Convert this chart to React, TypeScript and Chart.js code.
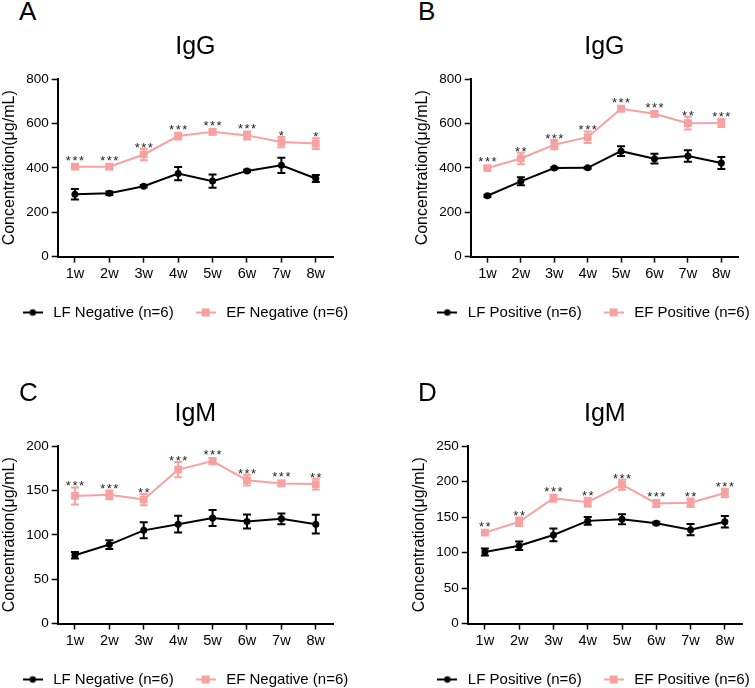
import React, { useEffect, useRef } from 'react';
import { Chart, registerables } from 'chart.js';

Chart.register(...registerables);

const WEEKS = ['1w', '2w', '3w', '4w', '5w', '6w', '7w', '8w'];

// Panel A — IgG, Negative
const A_LF = [281, 285, 317, 374, 340, 386, 411, 352];
const A_LF_ERR = [24, 8, 5, 30, 30, 5, 34, 16];
const A_EF = [405, 405, 460, 543, 562, 546, 516, 509];
const A_EF_ERR = [10, 12, 26, 15, 12, 18, 23, 24];
const A_STARS = ['***', '***', '***', '***', '***', '***', '*', '*'];

// Panel B — IgG, Positive
const B_LF = [274, 339, 399, 400, 475, 441, 453, 422];
const B_LF_ERR = [5, 18, 4, 4, 22, 22, 26, 27];
const B_EF = [399, 442, 504, 538, 666, 643, 601, 602];
const B_EF_ERR = [5, 26, 21, 26, 8, 12, 29, 18];
const B_STARS = ['***', '**', '***', '***', '***', '***', '**', '***'];

// Panel C — IgM, Negative
const C_LF = [77, 89, 105, 112, 119, 115, 118, 112];
const C_LF_ERR = [3.7, 5, 9, 9.5, 9, 8, 6, 10.5];
const C_EF = [143.8, 145, 139.7, 173.4, 183, 161.5, 157.9, 157.1];
const C_EF_ERR = [9.6, 5, 6.3, 8.5, 3.5, 6, 3, 6];
const C_STARS = ['***', '***', '**', '***', '***', '***', '***', '**'];

// Panel D — IgM, Positive
const D_LF = [100.7, 109.5, 124.8, 144.6, 147, 141.4, 132.2, 143.3];
const D_LF_ERR = [5, 6, 9, 5.5, 7, 2, 8, 8];
const D_EF = [128, 143.3, 176.5, 171, 195.5, 169.1, 170, 183.9];
const D_EF_ERR = [2, 6, 5, 6, 7, 5, 6, 6];
const D_STARS = ['**', '**', '***', '**', '***', '***', '**', '***'];

const Y_TITLE = 'Concentration(μg/mL)';
const PINK = '#F7A1A1';
const BLACK = '#000000';
const FONT = '"Liberation Sans", Arial, Helvetica, sans-serif';

type PanelDef = {
  letter: string;
  title: string;
  yMax: number;
  yStep: number;
  lfLabel: string;
  efLabel: string;
  lf: number[];
  lfErr: number[];
  ef: number[];
  efErr: number[];
  stars: string[];
  left: number;
  top: number;
  width: number;
  height: number;
  rightPad: number;
  letterLeft: number;
  letterTop: number;
};

const PANELS: PanelDef[] = [
  {
    letter: 'A', title: 'IgG', yMax: 800, yStep: 200,
    lfLabel: 'LF Negative (n=6)', efLabel: 'EF Negative (n=6)',
    lf: A_LF, lfErr: A_LF_ERR, ef: A_EF, efErr: A_EF_ERR, stars: A_STARS,
    left: 0, top: 30, width: 368, height: 300, rightPad: 35,
    letterLeft: 19, letterTop: -2,
  },
  {
    letter: 'B', title: 'IgG', yMax: 800, yStep: 200,
    lfLabel: 'LF Positive (n=6)', efLabel: 'EF Positive (n=6)',
    lf: B_LF, lfErr: B_LF_ERR, ef: B_EF, efErr: B_EF_ERR, stars: B_STARS,
    left: 413, top: 30, width: 358, height: 300, rightPad: 33,
    letterLeft: 418, letterTop: -2,
  },
  {
    letter: 'C', title: 'IgM', yMax: 200, yStep: 50,
    lfLabel: 'LF Negative (n=6)', efLabel: 'EF Negative (n=6)',
    lf: C_LF, lfErr: C_LF_ERR, ef: C_EF, efErr: C_EF_ERR, stars: C_STARS,
    left: 0, top: 397, width: 368, height: 300, rightPad: 35,
    letterLeft: 19, letterTop: 379,
  },
  {
    letter: 'D', title: 'IgM', yMax: 250, yStep: 50,
    lfLabel: 'LF Positive (n=6)', efLabel: 'EF Positive (n=6)',
    lf: D_LF, lfErr: D_LF_ERR, ef: D_EF, efErr: D_EF_ERR, stars: D_STARS,
    left: 410, top: 397, width: 364, height: 300, rightPad: 32,
    letterLeft: 418, letterTop: 379,
  },
];

function makeLegendIcon(color: string, shape: 'circle' | 'rect') {
  const c = document.createElement('canvas');
  c.width = 20;
  c.height = 10;
  const g = c.getContext('2d')!;
  g.strokeStyle = color;
  g.lineWidth = 2;
  g.beginPath();
  g.moveTo(0, 5);
  g.lineTo(20, 5);
  g.stroke();
  g.fillStyle = color;
  if (shape === 'circle') {
    g.beginPath();
    g.arc(10, 5, 3.2, 0, Math.PI * 2);
    g.fill();
  } else {
    g.fillRect(6, 1, 8, 8);
  }
  return c;
}

const errorBarPlugin = {
  id: 'errorBars',
  afterDatasetsDraw(chart: any) {
    const ctx = chart.ctx;
    const yScale = chart.scales.y;
    chart.data.datasets.forEach((ds: any, di: number) => {
      const meta = chart.getDatasetMeta(di);
      const errs: number[] | undefined = ds.errors;
      if (!errs) return;
      ctx.save();
      ctx.strokeStyle = ds.borderColor;
      ctx.lineWidth = 2;
      meta.data.forEach((pt: any, i: number) => {
        const v = ds.data[i];
        const e = errs[i];
        const x = pt.x;
        const yTop = yScale.getPixelForValue(v + e);
        const yBot = yScale.getPixelForValue(v - e);
        ctx.beginPath();
        ctx.moveTo(x, yTop);
        ctx.lineTo(x, yBot);
        ctx.moveTo(x - 4, yTop);
        ctx.lineTo(x + 4, yTop);
        ctx.moveTo(x - 4, yBot);
        ctx.lineTo(x + 4, yBot);
        ctx.stroke();
        if (ds.stars && ds.stars[i]) {
          ctx.save();
          ctx.fillStyle = '#222222';
          ctx.font = `13px ${FONT}`;
          ctx.textAlign = 'left';
          ctx.textBaseline = 'alphabetic';
          try { (ctx as any).letterSpacing = '1.5px'; } catch (err) { /* ignore */ }
          const txt = ds.stars[i];
          const w = ctx.measureText(txt).width - 1.5;
          ctx.fillText(txt, x - w / 2, Math.min(yTop, pt.y - 5) + 3);
          ctx.restore();
        }
      });
      ctx.restore();
    });
  },
};

function Panel({ def }: { def: PanelDef }) {
  const ref = useRef<HTMLCanvasElement | null>(null);
  useEffect(() => {
    if (!ref.current) return;
    const lfIcon = makeLegendIcon(BLACK, 'circle');
    const efIcon = makeLegendIcon(PINK, 'rect');
    const chart = new Chart(ref.current, {
      type: 'line',
      data: {
        labels: WEEKS,
        datasets: [
          {
            label: def.lfLabel,
            data: def.lf,
            borderColor: BLACK,
            backgroundColor: BLACK,
            borderWidth: 2,
            pointStyle: 'circle',
            pointRadius: 3.5,
            pointBackgroundColor: BLACK,
            pointBorderColor: BLACK,
            pointBorderWidth: 0,
            tension: 0,
            errors: def.lfErr,
          } as any,
          {
            label: def.efLabel,
            data: def.ef,
            borderColor: PINK,
            backgroundColor: PINK,
            borderWidth: 2,
            pointStyle: 'rect',
            pointRadius: 5.5,
            pointBackgroundColor: PINK,
            pointBorderColor: PINK,
            pointBorderWidth: 0,
            tension: 0,
            errors: def.efErr,
            stars: def.stars,
          } as any,
        ],
      },
      options: {
        animation: false,
        responsive: false,
        maintainAspectRatio: false,
        layout: { padding: { left: 0, right: 0, top: 0, bottom: 0 } },
        font: { family: FONT },
        plugins: {
          tooltip: { enabled: false },
          title: {
            display: true,
            text: def.title,
            color: BLACK,
            fullSize: false,
            font: { size: 25, weight: 'normal', family: FONT },
            padding: { top: 2, bottom: 17 },
          },
          legend: {
            display: true,
            position: 'bottom',
            labels: {
              usePointStyle: true,
              pointStyleWidth: 26,
              padding: 19,
              color: BLACK,
              font: { size: 15, family: FONT },
              generateLabels: () => [
                { text: def.lfLabel, pointStyle: lfIcon, fillStyle: BLACK, strokeStyle: BLACK, lineWidth: 0, hidden: false, datasetIndex: 0, fontColor: BLACK },
                { text: def.efLabel, pointStyle: efIcon, fillStyle: PINK, strokeStyle: PINK, lineWidth: 0, hidden: false, datasetIndex: 1, fontColor: BLACK },
              ] as any,
            },
          },
        },
        scales: {
          x: {
            type: 'category',
            offset: true,
            grid: {
              display: true,
              drawOnChartArea: false,
              drawTicks: true,
              tickLength: 6,
              tickColor: BLACK,
              tickWidth: 1.5,
              offset: false,
            },
            border: { display: true, color: BLACK, width: 2 },
            ticks: { color: BLACK, font: { size: 14.5, family: FONT }, padding: 3, maxRotation: 0, autoSkip: false },
          },
          y: {
            type: 'linear',
            position: 'left',
            min: 0,
            max: def.yMax,
            grid: {
              display: true,
              drawOnChartArea: false,
              drawTicks: true,
              tickLength: 6,
              tickColor: BLACK,
              tickWidth: 1.5,
            },
            border: { display: true, color: BLACK, width: 2 },
            ticks: { stepSize: def.yStep, color: BLACK, font: { size: 13.5, family: FONT }, padding: 3 },
            title: {
              display: true,
              text: Y_TITLE,
              color: BLACK,
              font: { size: 16, family: FONT },
              padding: { top: 0, bottom: 4 },
            },
          },
          yR: {
            type: 'linear',
            position: 'right',
            display: true,
            grid: { display: false, drawTicks: false },
            border: { display: false },
            ticks: { display: false },
            afterFit: (s: any) => {
              s.width = def.rightPad;
            },
          },
        },
      } as any,
      plugins: [errorBarPlugin],
    });
    return () => chart.destroy();
  }, [def]);

  return (
    <>
      <canvas
        ref={ref}
        width={def.width}
        height={def.height}
        style={{ position: 'absolute', left: def.left, top: def.top, width: def.width, height: def.height }}
      />
      <div
        style={{
          position: 'absolute',
          left: def.letterLeft,
          top: def.letterTop,
          fontFamily: FONT,
          fontSize: 26,
          lineHeight: '26px',
          color: BLACK,
        }}
      >
        {def.letter}
      </div>
    </>
  );
}

export default function App() {
  return (
    <div
      style={{
        position: 'absolute',
        left: 0,
        top: 0,
        width: 755,
        height: 688,
        overflow: 'hidden',
        background: '#ffffff',
      }}
    >
      {PANELS.map((p) => (
        <Panel key={p.letter} def={p} />
      ))}
    </div>
  );
}
